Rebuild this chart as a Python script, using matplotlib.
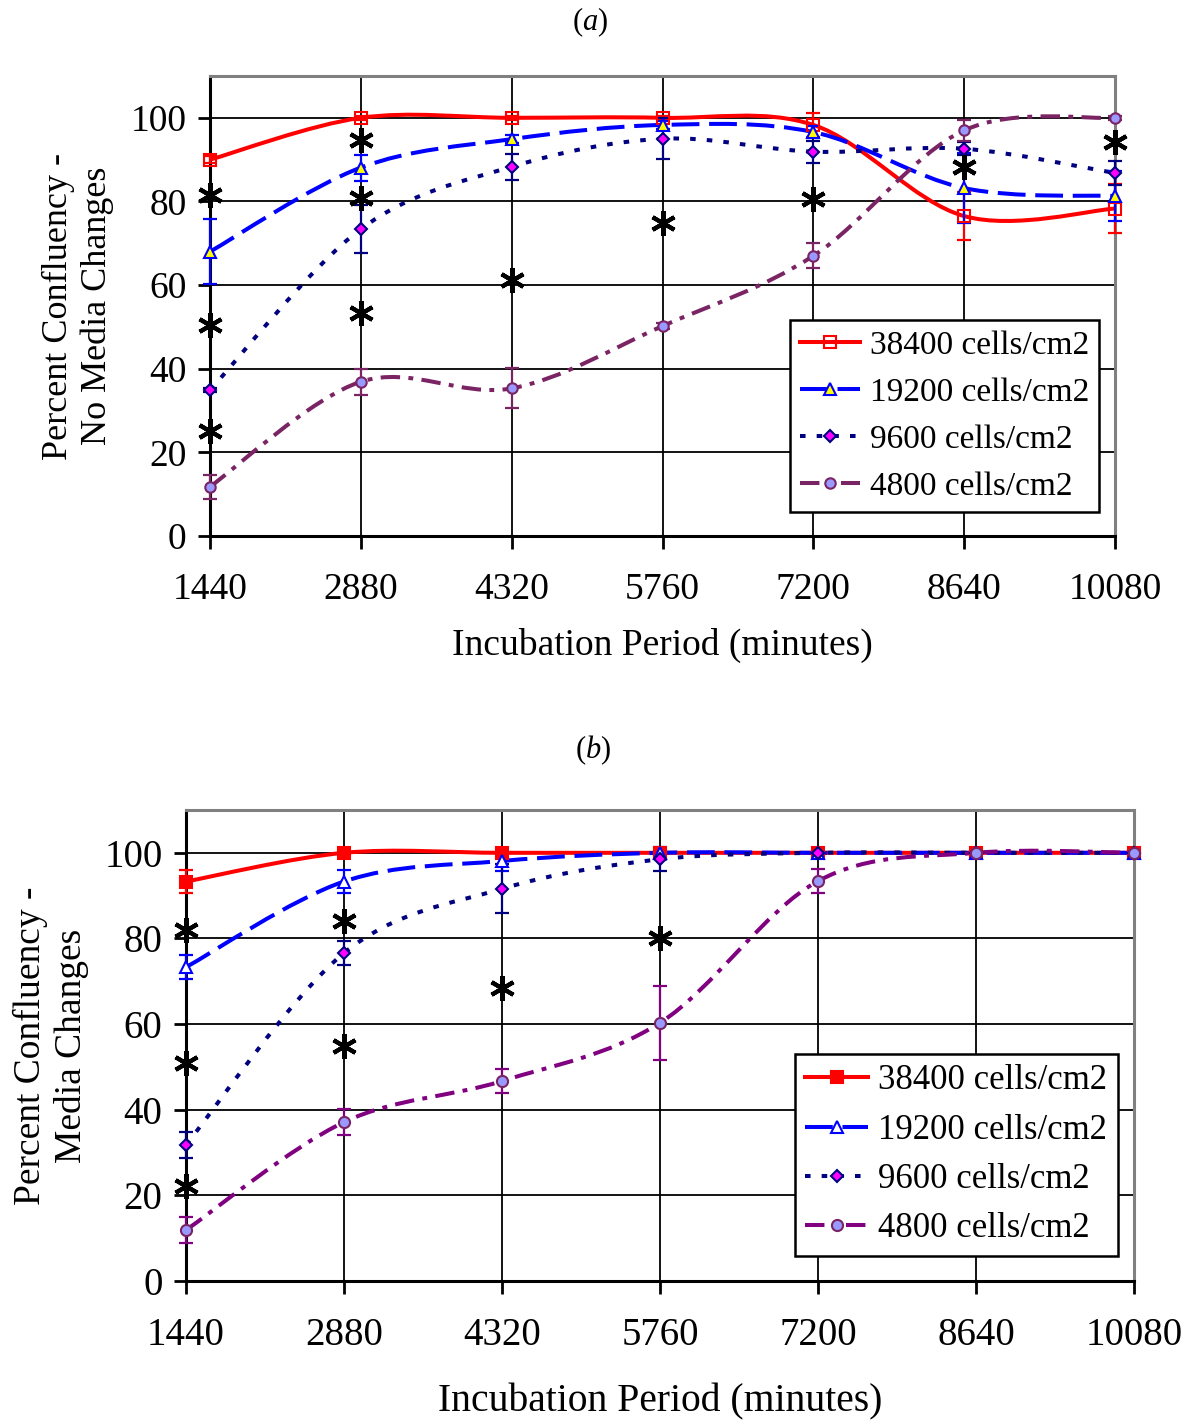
import numpy as np
import matplotlib
matplotlib.use("Agg")
import matplotlib.pyplot as plt
from matplotlib.path import Path
from matplotlib.patches import PathPatch
from matplotlib.lines import Line2D

plt.rcParams["font.family"] = ["Liberation Serif", "DejaVu Serif"]
plt.rcParams["mathtext.fontset"] = "custom"
plt.rcParams["mathtext.it"] = "Liberation Serif:italic"
plt.rcParams["mathtext.rm"] = "Liberation Serif"
plt.rcParams["lines.scale_dashes"] = False

# ---------------------------------------------------------------- data
minutes = [1440, 2880, 4320, 5760, 7200, 8640, 10080]
labels = ["38400 cells/cm2", "19200 cells/cm2", "9600 cells/cm2", "4800 cells/cm2"]

# (a) no media changes
a_38400 = [90.0, 100.0, 100.0, 100.0, 98.3, 76.5, 78.3]
a_38400_err = [0.8, 0.5, 0.5, 0.5, 2.8, 5.8, 5.8]
a_19200 = [68.0, 88.1, 94.9, 98.3, 96.6, 83.2, 81.3]
a_19200_err = [7.7, 3.1, 1.0, 1.0, 1.5, 8.4, 6.0]
a_9600 = [34.9, 73.4, 88.3, 95.0, 91.9, 92.6, 86.8]
a_9600_err = [0.5, 5.7, 3.1, 4.9, 2.6, 1.5, 2.8]
a_4800 = [11.8, 36.9, 35.3, 50.2, 67.0, 97.0, 100.0]
a_4800_err = [2.9, 3.1, 4.8, 0.8, 3.0, 2.5, 0.5]
ast_a_x = [1440, 1440, 1440, 2880, 2880, 2880, 4320, 5760, 7200, 8640, 10080]
ast_a_y = [81.6, 50.5, 25.1, 94.7, 80.9, 53.3, 61.2, 74.9, 80.6, 88.3, 94.3]

# (b) media changes
b_38400 = [93.3, 100.0, 100.0, 100.0, 100.0, 100.0, 100.0]
b_38400_err = [2.8, 0.3, 0.3, 0.3, 0.3, 0.3, 0.3]
b_19200 = [73.3, 93.3, 98.1, 100.0, 100.0, 100.0, 100.0]
b_19200_err = [2.8, 2.8, 2.4, 0.5, 0.3, 0.3, 0.3]
b_9600 = [31.8, 76.6, 91.6, 98.5, 100.0, 100.0, 100.0]
b_9600_err = [3.0, 2.8, 5.7, 2.8, 0.3, 0.3, 0.3]
b_4800 = [11.9, 37.1, 46.7, 60.3, 93.4, 100.0, 100.0]
b_4800_err = [3.0, 3.0, 2.7, 8.6, 2.8, 0.3, 0.3]
ast_b_x = [1440, 1440, 1440, 2880, 2880, 4320, 5760]
ast_b_y = [82.0, 51.0, 22.3, 84.1, 54.9, 68.4, 80.1]


def smooth_path(x, y):
    # Excel style smoothed line: cubic bezier through the points
    pts = np.column_stack([x, y]).astype(float)
    n = len(pts)
    verts, codes = [pts[0]], [Path.MOVETO]
    for i in range(n - 1):
        p0, p1 = pts[max(i - 1, 0)], pts[i]
        p2, p3 = pts[i + 1], pts[min(i + 2, n - 1)]
        verts += [p1 + (p2 - p0) / 6, p2 - (p3 - p1) / 6, p2]
        codes += [Path.CURVE4] * 3
    return Path(verts, codes)


def draw_panel(ax, series, ast_x, ast_y, ylabel, ylab_x, xlab_y, tick_fs, ylab_fs, xlab_fs):
    handles = []
    for vals, err, st in series:
        ax.add_patch(PathPatch(smooth_path(minutes, vals), fill=False,
                               edgecolor=st["color"], lw=st["lw"],
                               linestyle=st["ls"], capstyle="butt", zorder=3))
        eb = ax.errorbar(minutes, vals, yerr=err, fmt="none", ecolor=st["color"],
                         elinewidth=1.6, capsize=5, capthick=1.6, zorder=4)
        for art in eb.lines[1] + eb.lines[2]:
            art.set_clip_on(False)
        ax.plot(minutes, vals, ls="none", marker=st["marker"], ms=st["ms"],
                mfc=st["mfc"], mec=st["mec"], mew=1.5, zorder=5, clip_on=False)
        handles.append(Line2D([], [], color=st["color"], lw=st["lw"], ls=st["ls"],
                              marker=st["marker"], ms=st["ms"], mfc=st["mfc"],
                              mec=st["mec"], mew=1.5, dash_capstyle="butt"))
    ax.plot(ast_x, ast_y, ls="none", marker=(6, 2, 0), ms=18, mew=3,
            color="black", zorder=6, clip_on=False)

    ax.set_xlim(1440, 10080)
    ax.set_ylim(0, 110)
    ax.set_xticks(minutes)
    ax.set_yticks(range(0, 101, 20))
    ax.set_axisbelow(True)
    ax.grid(True, color="black", lw=1.3)
    for s in ["left", "bottom"]:
        ax.spines[s].set_color("black")
        ax.spines[s].set_linewidth(2.2)
    for s in ["top", "right"]:
        ax.spines[s].set_color("#808080")
        ax.spines[s].set_linewidth(2.2)
    ax.tick_params(direction="out", length=9, width=2, labelsize=tick_fs)
    ax.tick_params(axis="x", pad=17)
    ax.tick_params(axis="y", pad=8)
    ax.set_xlabel("Incubation Period (minutes)", fontsize=xlab_fs, va="center")
    ax.xaxis.set_label_coords(0.5, xlab_y)
    ax.set_ylabel(ylabel, fontsize=ylab_fs, va="center", ha="center",
                  linespacing=1.2)
    ax.yaxis.set_label_coords(ylab_x, 0.5)
    return handles


W, H = 1193, 1422
fig = plt.figure(figsize=(W / 100, H / 100), dpi=100)

ax_a = fig.add_axes([210 / W, 1 - 536 / H, 905 / W, 460 / H])
ax_b = fig.add_axes([186 / W, 1 - 1281 / H, 948 / W, 471 / H])

style_a = [
    dict(color="#ff0000", lw=2.9, ls="-", marker="s", ms=8, mfc="none", mec="#ff0000"),
    dict(color="#0000ff", lw=2.9, ls=(0, (20, 7)), marker="^", ms=8, mfc="#ffff00", mec="#0000ff"),
    dict(color="#000080", lw=2.9, ls=(0, (4, 8)), marker="D", ms=6.5, mfc="#ff00ff", mec="#000080"),
    dict(color="#7b2464", lw=2.9, ls=(0, (14, 6, 3.5, 6)), marker="o", ms=7.5, mfc="#9999ff", mec="#7b2464"),
]
style_b = [
    dict(color="#ff0000", lw=2.9, ls="-", marker="s", ms=9, mfc="#ff0000", mec="#ff0000"),
    dict(color="#0000ff", lw=2.9, ls=(0, (20, 7)), marker="^", ms=8.5, mfc="white", mec="#0000ff"),
    dict(color="#000080", lw=2.9, ls=(0, (4, 8)), marker="D", ms=6.5, mfc="#ff00ff", mec="#000080"),
    dict(color="#800080", lw=2.9, ls=(0, (14, 6, 3.5, 6)), marker="o", ms=8, mfc="#9999ff", mec="#7b2464"),
]

h_a = draw_panel(ax_a,
                 [(a_38400, a_38400_err, style_a[0]), (a_19200, a_19200_err, style_a[1]),
                  (a_9600, a_9600_err, style_a[2]), (a_4800, a_4800_err, style_a[3])],
                 ast_a_x, ast_a_y, "Percent Confluency -\nNo Media Changes",
                 -0.146, -0.237, 27, 26, 27)
h_b = draw_panel(ax_b,
                 [(b_38400, b_38400_err, style_b[0]), (b_19200, b_19200_err, style_b[1]),
                  (b_9600, b_9600_err, style_b[2]), (b_4800, b_4800_err, style_b[3])],
                 ast_b_x, ast_b_y, "Percent Confluency -\nMedia Changes",
                 -0.1425, -0.257, 28, 27, 28.5)

for ax, h, (x0, y0), fs, sp in [(ax_a, h_a, (790, 320), 24, 0.5),
                                (ax_b, h_b, (795, 1054), 25, 0.47)]:
    leg = ax.legend(h, labels, loc="upper left", bbox_to_anchor=(x0 / W, 1 - y0 / H),
                    bbox_transform=fig.transFigure, borderaxespad=0, fontsize=fs,
                    frameon=True, fancybox=False, framealpha=1, edgecolor="black",
                    handlelength=1.8, handletextpad=0.3, labelspacing=sp,
                    borderpad=0.3)
    leg.get_frame().set_linewidth(1.8)
    leg.set_zorder(10)

fig.text(590 / W, 1 - 22 / H, r"($\mathit{a}$)", ha="center", va="center", fontsize=22)
fig.text(593 / W, 1 - 750 / H, r"($\mathit{b}$)", ha="center", va="center", fontsize=22)

fig.savefig("out.png", dpi=100)
